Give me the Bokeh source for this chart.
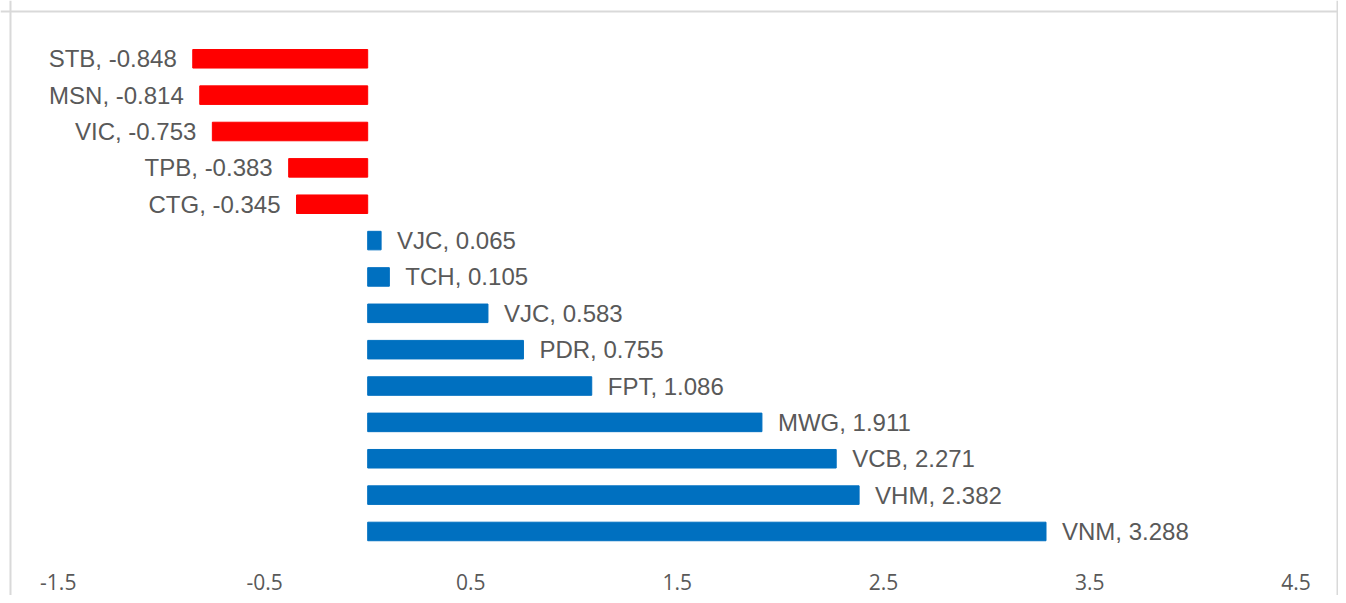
from bokeh.plotting import figure
from bokeh.models import ColumnDataSource, Range1d, LinearAxis, FixedTicker, Span, PrintfTickFormatter
from bokeh.core.properties import value
from bokeh.embed import file_html
from bokeh.resources import INLINE

# ---- data ----
tickers = ["STB", "MSN", "VIC", "TPB", "CTG", "VJC", "TCH", "VJC", "PDR", "FPT", "MWG", "VCB", "VHM", "VNM"]
values = [-0.848, -0.814, -0.753, -0.383, -0.345, 0.065, 0.105, 0.583, 0.755, 1.086, 1.911, 2.271, 2.382, 3.288]
x_ticks = [-1.5, -0.5, 0.5, 1.5, 2.5, 3.5, 4.5]

NEG_COLOR = "#FF0000"
POS_COLOR = "#0070C0"
TEXT_COLOR = "#595959"

pos = list(range(len(tickers)))
labels = [f"{t}, {v:.3f}" for t, v in zip(tickers, values)]
neg = [v < 0 for v in values]

src_neg = ColumnDataSource(dict(
    y=[p for p, n in zip(pos, neg) if n],
    v=[v for v, n in zip(values, neg) if n],
    lab=[l for l, n in zip(labels, neg) if n],
))
src_pos = ColumnDataSource(dict(
    y=[p for p, n in zip(pos, neg) if not n],
    v=[v for v, n in zip(values, neg) if not n],
    lab=[l for l, n in zip(labels, neg) if not n],
))

p = figure(width=1338, height=595, output_backend="svg", toolbar_location=None,
           x_range=Range1d(-1.7799, 4.7058), y_range=Range1d(14.761, -1.603),
           x_axis_location=None, y_axis_location=None,
           min_border_left=0, min_border_right=0, min_border_top=0, min_border_bottom=0)
p.outline_line_color = None
p.grid.visible = False
p.background_fill_color = "white"
p.border_fill_color = "white"

p.hbar(y="y", left=0, right="v", height=0.51, source=src_neg, color=NEG_COLOR)
p.hbar(y="y", left=0, right="v", height=0.51, source=src_pos, color=POS_COLOR)

p.text(x="v", y="y", text="lab", source=src_neg, x_offset=-16, text_align="right",
       text_baseline="middle", text_color=TEXT_COLOR, text_font=value("Liberation Sans"),
       text_font_size="24px")
p.text(x="v", y="y", text="lab", source=src_pos, x_offset=16, text_align="left",
       text_baseline="middle", text_color=TEXT_COLOR, text_font=value("Liberation Sans"),
       text_font_size="24px")

ax = LinearAxis(ticker=FixedTicker(ticks=x_ticks), fixed_location=14.03,
                formatter=PrintfTickFormatter(format="%.1f"))
ax.axis_line_color = None
ax.major_tick_line_color = None
ax.minor_tick_line_color = None
ax.major_tick_in = 0
ax.major_tick_out = 0
ax.major_label_standoff = 5
ax.major_label_text_font = "Open Sans"
ax.major_label_text_font_size = "21px"
ax.major_label_text_color = TEXT_COLOR
p.add_layout(ax, "below")

# chart border (left, top, right)
border = "#D9D9D9"
p.add_layout(Span(location=-1.7315, dimension="height", line_color=border, line_width=2))
p.add_layout(Span(location=4.7009, dimension="height", line_color=border, line_width=2))
p.add_layout(Span(location=-1.301, dimension="width", line_color=border, line_width=2))

open("out.html", "w").write(file_html(p, INLINE))
